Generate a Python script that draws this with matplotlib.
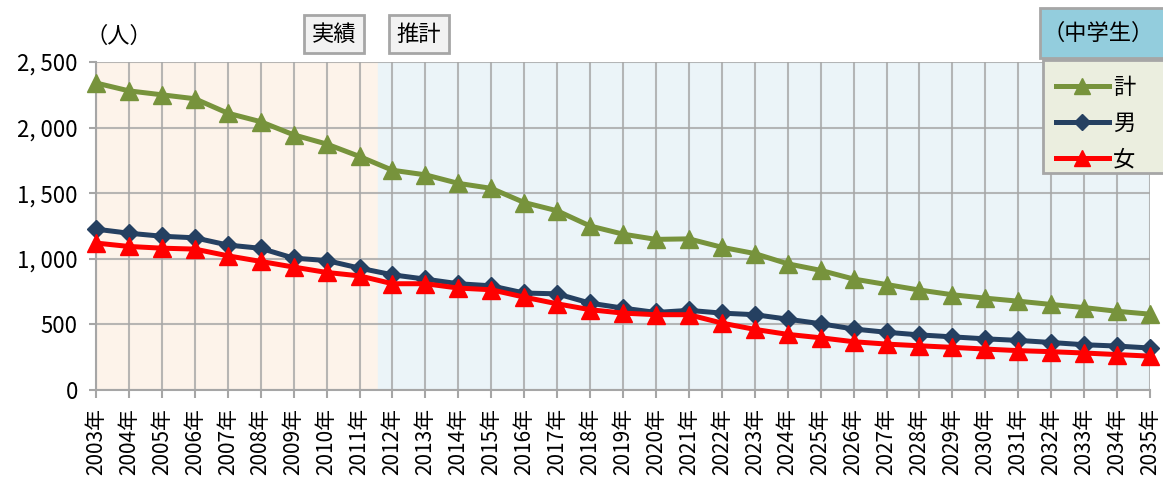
import numpy as np
import matplotlib.pyplot as plt
from matplotlib.patches import Rectangle
from matplotlib.lines import Line2D
from matplotlib.ticker import FuncFormatter

plt.rcParams['font.family'] = ['Noto Sans CJK JP', 'DejaVu Sans']

# 中学生数（人）
years = list(range(2003, 2036))
total = [2340, 2280, 2250, 2220, 2110, 2045, 1945, 1875, 1780, 1675,
         1640, 1575, 1537, 1429, 1366, 1250, 1188, 1148, 1152, 1088,
         1040, 962, 912, 846, 804, 762, 726, 700, 677, 652,
         628, 600, 578]
male = [1226, 1195, 1172, 1160, 1105, 1080, 1005, 987, 929, 878,
        845, 810, 794, 739, 733, 662, 624, 591, 607, 586,
        574, 540, 505, 465, 440, 420, 405, 390, 378, 362,
        345, 335, 320]
female = [1120, 1094, 1081, 1074, 1023, 980, 937, 896, 870, 810,
          810, 777, 764, 708, 657, 612, 586, 574, 574, 510,
          462, 424, 398, 368, 350, 337, 325, 312, 300, 292,
          282, 270, 258]
series_labels = ['計', '男', '女']
actual_end = 2011.57

xlabels = [f'{y}年' for y in years]

c_total = '#77933C'
c_male = '#254061'
c_female = '#FF0000'
c_grid = '#A6A6A6'

fig = plt.figure(figsize=(11.63, 4.87), dpi=100)
ax = fig.add_axes([96 / 1163, 1 - 390 / 487, 1054 / 1163, 328 / 487])

ax.axvspan(2003, actual_end, color='#FDF3EA', zorder=0)
ax.axvspan(actual_end, 2035, color='#EBF4F8', zorder=0)

ax.plot(years, total, color=c_total, lw=3.6, marker='^', ms=13,
        zorder=3, clip_on=False)
ax.plot(years, male, color=c_male, lw=3.6, marker='D', ms=9,
        zorder=4, clip_on=False)
ax.plot(years, female, color=c_female, lw=3.6, marker='^', ms=13,
        zorder=5, clip_on=False)

ax.set_xlim(2003, 2035)
ax.set_ylim(0, 2500)
ax.set_yticks(np.arange(0, 2501, 500))
ax.yaxis.set_major_formatter(FuncFormatter(lambda v, p: f'{int(v):,}'.replace(',', ', ')))
ax.set_xticks(years)
ax.set_xticklabels(xlabels, rotation=90, fontsize=15)
ax.tick_params(axis='y', labelsize=16, length=5, width=1.5, color=c_grid, pad=8)
ax.tick_params(axis='x', length=6, width=1.5, color=c_grid, pad=7)

ax.grid(True, color=c_grid, lw=1.5, alpha=0.8, zorder=1)
ax.set_axisbelow(True)
for side in ['top', 'right']:
    ax.spines[side].set_visible(False)
for side in ['left', 'bottom']:
    ax.spines[side].set_color(c_grid)
    ax.spines[side].set_linewidth(1.5)

# 単位と区分ラベル
fig.text(86 / 1163, 1 - 36 / 487, '（人）', fontsize=16, va='center', ha='left')
for label, x0 in [('実績', 334), ('推計', 419)]:
    fig.text(x0 / 1163, 1 - 34 / 487, label, fontsize=16, ha='center', va='center',
             bbox=dict(boxstyle='square,pad=0.35', facecolor='#F2F2F2',
                       edgecolor='#A6A6A6', lw=2))

# 凡例
fig.patches.append(Rectangle((1040 / 1163, 1 - 58 / 487), 130 / 1163, 50 / 487,
                             transform=fig.transFigure, facecolor='#93CDDD',
                             edgecolor='#A6A6A6', lw=2, zorder=5))
fig.text(1098 / 1163, 1 - 33 / 487, '（中学生）', fontsize=16, ha='center',
         va='center', zorder=6)
fig.patches.append(Rectangle((1043 / 1163, 1 - 173 / 487), 130 / 1163, 113 / 487,
                             transform=fig.transFigure, facecolor='#EBEEDF',
                             edgecolor='#A6A6A6', lw=2, zorder=5))
handles = [
    Line2D([], [], color=c_total, lw=3.6, marker='^', ms=11),
    Line2D([], [], color=c_male, lw=3.6, marker='D', ms=8),
    Line2D([], [], color=c_female, lw=3.6, marker='^', ms=11),
]
leg = fig.legend(handles, series_labels, loc='upper left',
                 bbox_to_anchor=(1040 / 1163, 1 - 60 / 487), frameon=False,
                 fontsize=16, handlelength=2.4, handletextpad=0.2,
                 labelspacing=0.6, borderpad=0.2)
leg.set_zorder(7)

fig.savefig('out.png', dpi=100)
